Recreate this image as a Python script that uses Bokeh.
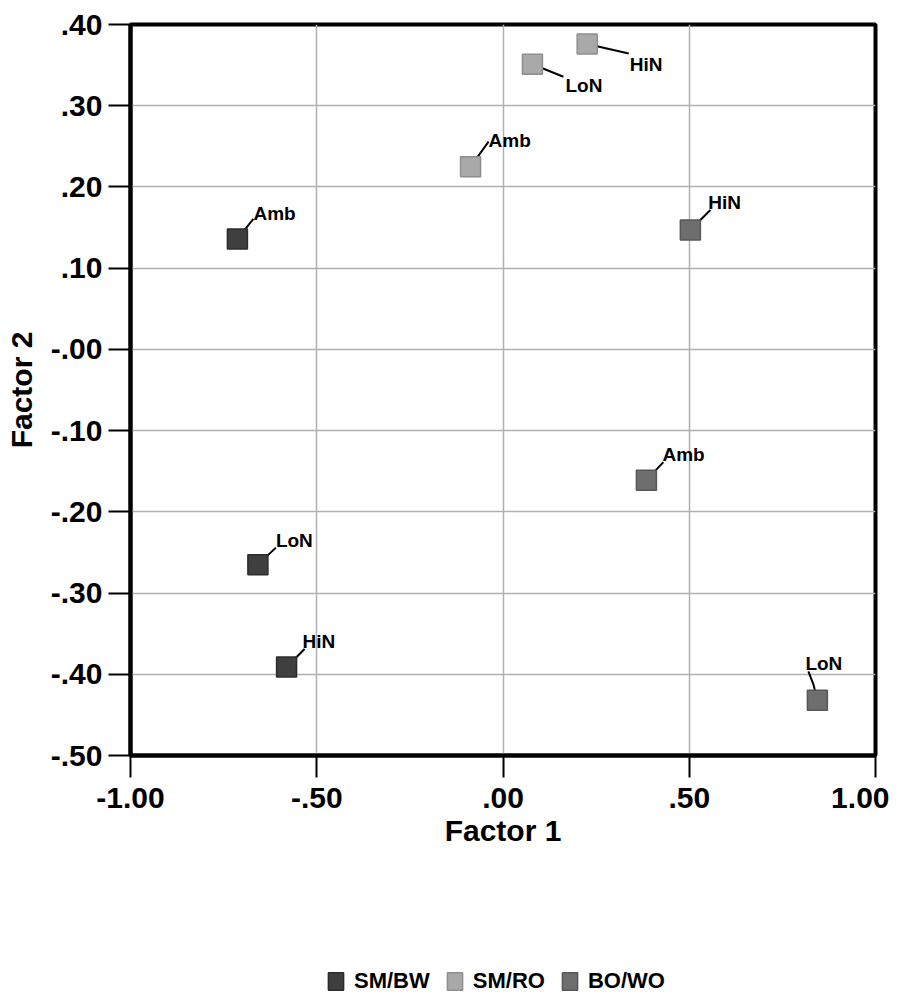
from bokeh.plotting import figure
from bokeh.layouts import column
from bokeh.models import ColumnDataSource, Range1d, FixedTicker, Legend, LegendItem
from bokeh.embed import file_html
from bokeh.resources import INLINE
from bokeh.core.properties import value

# ---------------- data ----------------
groups = ["SM/BW", "SM/RO", "BO/WO"]
group = ["SM/BW", "SM/BW", "SM/BW", "SM/RO", "SM/RO", "SM/RO", "BO/WO", "BO/WO", "BO/WO"]
condition = ["Amb", "LoN", "HiN", "Amb", "LoN", "HiN", "Amb", "HiN", "LoN"]
factor1 = [-0.713, -0.658, -0.581, -0.087, 0.079, 0.226, 0.385, 0.503, 0.844]
factor2 = [0.136, -0.265, -0.391, 0.225, 0.351, 0.376, -0.161, 0.147, -0.432]

x_ticks = [-1.0, -0.5, 0.0, 0.5, 1.0]
x_tick_labels = ["-1.00", "-.50", ".00", ".50", "1.00"]
y_ticks = [0.4, 0.3, 0.2, 0.1, 0.0, -0.1, -0.2, -0.3, -0.4, -0.5]
y_tick_labels = [".40", ".30", ".20", ".10", "-.00", "-.10", "-.20", "-.30", "-.40", "-.50"]

# ---------------- style ----------------
FONT = "Liberation Sans"
fills = {"SM/BW": "#3f3f3f", "SM/RO": "#a9a9a9", "BO/WO": "#6e6e6e"}
edges = {"SM/BW": "#2c2c2c", "SM/RO": "#8e8e8e", "BO/WO": "#575757"}
# leader-line path offsets in screen px (y up) and text offsets (y down)
lead = [[(16, 20)], [(18, 17)], [(18, 18)], [(18, 25)], [(31, -12.5)],
        [(41.5, -9.5)], [(17, 18)], [(20, 20)], [(-4, 16), (-9, 29)]]
text_off = [(0, -5), (0, -7), (-2, -7), (0, -1), (2, 9), (1, 11), (-1, -8), (-2, -7), (-3, -8)]

W, H1, H2 = 889, 870, 124
ML, MR, MT, MB = 130, 14, 24, 115
x0, x1, y0, y1 = -1.0, 1.0, -0.5, 0.4
fw, fh = W - ML - MR, H1 - MT - MB
pxu_x = fw / (x1 - x0)
pxu_y = fh / (y1 - y0)

p = figure(width=W, height=H1, output_backend="svg", toolbar_location=None,
           x_range=Range1d(x0, x1), y_range=Range1d(y0, y1),
           min_border_left=ML, min_border_right=MR, min_border_top=MT, min_border_bottom=MB)
p.background_fill_color = "white"
p.border_fill_color = "white"
p.outline_line_color = "black"
p.outline_line_width = 4

for ax in (p.xaxis[0], p.yaxis[0]):
    ax.axis_line_width = 4
    ax.axis_line_color = "black"
    ax.major_tick_line_width = 2
    ax.major_tick_line_color = "black"
    ax.major_tick_out = 22
    ax.major_tick_in = 0
    ax.minor_tick_line_color = None
    ax.major_label_text_font = FONT
    ax.major_label_text_font_style = "bold"
    ax.major_label_text_font_size = "30px"
    ax.major_label_text_color = "black"
    ax.axis_label_text_font = FONT
    ax.axis_label_text_font_style = "bold"
    ax.axis_label_text_font_size = "30px"
    ax.axis_label_text_color = "black"

p.xaxis.ticker = FixedTicker(ticks=x_ticks)
p.yaxis.ticker = FixedTicker(ticks=y_ticks)
p.xaxis.major_label_overrides = {t: l for t, l in zip(x_ticks, x_tick_labels)}
p.yaxis.major_label_overrides = {t: l for t, l in zip(y_ticks, y_tick_labels)}
p.xaxis.axis_label = "Factor 1"
p.yaxis.axis_label = "Factor 2"
p.xaxis.major_label_standoff = 10
p.yaxis.major_label_standoff = 6
p.xaxis.axis_label_standoff = 3
p.yaxis.axis_label_standoff = 10

p.grid.grid_line_color = "#b0b0b0"
p.grid.grid_line_width = 1.5

# leader lines
lx, ly, tx, ty = [], [], [], []
for i in range(len(factor1)):
    xs = [factor1[i]] + [factor1[i] + dx / pxu_x for dx, dy in lead[i]]
    ys = [factor2[i]] + [factor2[i] + dy / pxu_y for dx, dy in lead[i]]
    lx.append(xs)
    ly.append(ys)
    tx.append(xs[-1])
    ty.append(ys[-1])
p.multi_line(xs=lx, ys=ly, line_color="black", line_width=2)

# points
sources = {}
for g in groups:
    idx = [i for i in range(len(group)) if group[i] == g]
    sources[g] = ColumnDataSource(dict(x=[factor1[i] for i in idx], y=[factor2[i] for i in idx]))
    p.rect("x", "y", width=20, height=20, width_units="screen", height_units="screen",
           source=sources[g], fill_color=fills[g], line_color=edges[g], line_width=1.5)

# point labels
lsrc = ColumnDataSource(dict(x=tx, y=ty, t=condition,
                             xo=[o[0] for o in text_off], yo=[o[1] for o in text_off]))
p.text("x", "y", text="t", source=lsrc, x_offset="xo", y_offset="yo",
       text_font=value(FONT), text_font_style="bold", text_font_size="19px",
       text_align="left", text_baseline="alphabetic", text_color="black")

# ---------------- legend strip ----------------
p2 = figure(width=W, height=H2, output_backend="svg", toolbar_location=None,
            x_range=Range1d(10, 11), y_range=Range1d(10, 11),
            x_axis_type=None, y_axis_type=None, min_border=0)
p2.outline_line_color = None
p2.background_fill_color = "white"
p2.border_fill_color = "white"
items = []
for g in groups:
    r = p2.rect("x", "y", width=20, height=20, width_units="screen", height_units="screen",
                source=sources[g], fill_color=fills[g], line_color=edges[g], line_width=1.5)
    items.append(LegendItem(label=g, renderers=[r]))

legend = Legend(items=items, orientation="horizontal", location=(196, 0),
                glyph_width=19, glyph_height=22, label_standoff=9, spacing=15,
                padding=0, margin=0, border_line_color=None, background_fill_alpha=0,
                label_text_font=FONT, label_text_font_style="bold",
                label_text_font_size="22px", label_text_color="black")
p2.add_layout(legend, "center")

layout = column(p, p2, spacing=0)
open("out.html", "w").write(file_html(layout, INLINE))
